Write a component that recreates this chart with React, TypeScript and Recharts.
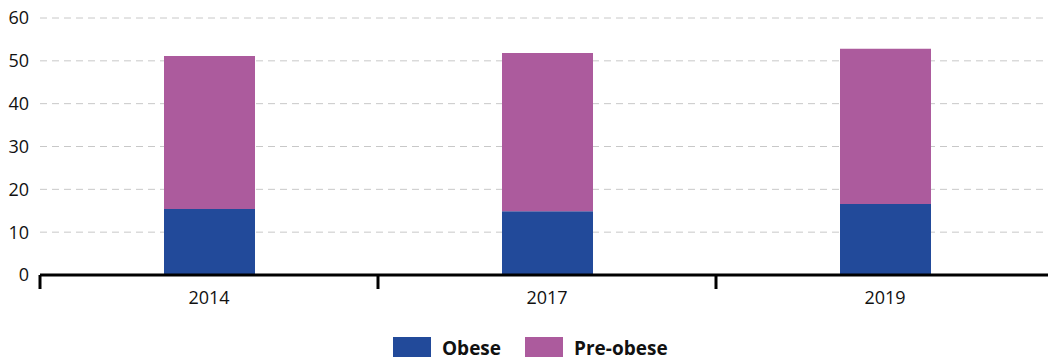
import React from 'react';
import { BarChart, Bar, XAxis, YAxis, CartesianGrid } from 'recharts';

const years = ['2014', '2017', '2019'];
const obese = [15.4, 14.9, 16.6];
const preObese = [35.7, 36.9, 36.2];
const yTicks = [0, 10, 20, 30, 40, 50, 60];

const BLUE = '#224a9a';
const PINK = '#ac5b9d';
const FONT = '"Open Sans", "DejaVu Sans", sans-serif';

const W = 1060;
const H = 357;
const MARGIN = { top: 18, right: 6, bottom: 0, left: 0 };
const Y_W = 40;
const BAND = (W - MARGIN.left - MARGIN.right - Y_W) / years.length;

const data = years.map((year, i) => ({ year, obese: obese[i], preObese: preObese[i] }));

// year label plus tick marks on the band edges
const YearTick = (props: any) => {
  const { x, y, payload, index } = props;
  const half = BAND / 2;
  return (
    <g>
      <line x1={x - half} x2={x - half} y1={y} y2={y + 14} stroke="#000" strokeWidth={3} />
      {index === years.length - 1 && (
        <line x1={x + half} x2={x + half} y1={y} y2={y + 14} stroke="#000" strokeWidth={3} />
      )}
      <text x={x} y={y + 29} textAnchor="middle" fontSize={18} fontFamily={FONT} fill="#111">
        {payload.value}
      </text>
    </g>
  );
};

const LegendItem = ({ color, label }: { color: string; label: string }) => (
  <div style={{ display: 'flex', alignItems: 'flex-start', marginRight: 24 }}>
    <div style={{ width: 38, height: 20, background: color, marginRight: 11 }} />
    <span
      style={{
        display: 'block',
        fontWeight: 700,
        fontSize: 19,
        lineHeight: '16px',
        marginTop: 3,
        fontFamily: FONT,
        color: '#111',
      }}
    >
      {label}
    </span>
  </div>
);

export default function App() {
  return (
    <div style={{ position: 'fixed', left: 0, top: 0, width: 1048, height: H, overflow: 'hidden', background: '#fff' }}>
      <BarChart width={W} height={H} data={data} margin={MARGIN}>
        <CartesianGrid vertical={false} stroke="#c8c8c8" strokeDasharray="7 5" />
        <XAxis
          dataKey="year"
          height={82}
          axisLine={{ stroke: '#000', strokeWidth: 3 }}
          tickLine={false}
          tickSize={0}
          tickMargin={0}
          tick={<YearTick />}
          interval={0}
        />
        <YAxis
          width={Y_W}
          domain={[0, 60]}
          ticks={yTicks}
          axisLine={false}
          tickLine={false}
          tickSize={0}
          tickMargin={11}
          tick={{ fontSize: 18, fontFamily: FONT, fill: '#111' }}
        />
        <Bar dataKey="obese" stackId="a" fill={BLUE} barSize={91} isAnimationActive={false} />
        <Bar dataKey="preObese" stackId="a" fill={PINK} barSize={91} isAnimationActive={false} />
      </BarChart>
      <div style={{ position: 'absolute', left: 393, top: 337, display: 'flex' }}>
        <LegendItem color={BLUE} label="Obese" />
        <LegendItem color={PINK} label="Pre-obese" />
      </div>
    </div>
  );
}
